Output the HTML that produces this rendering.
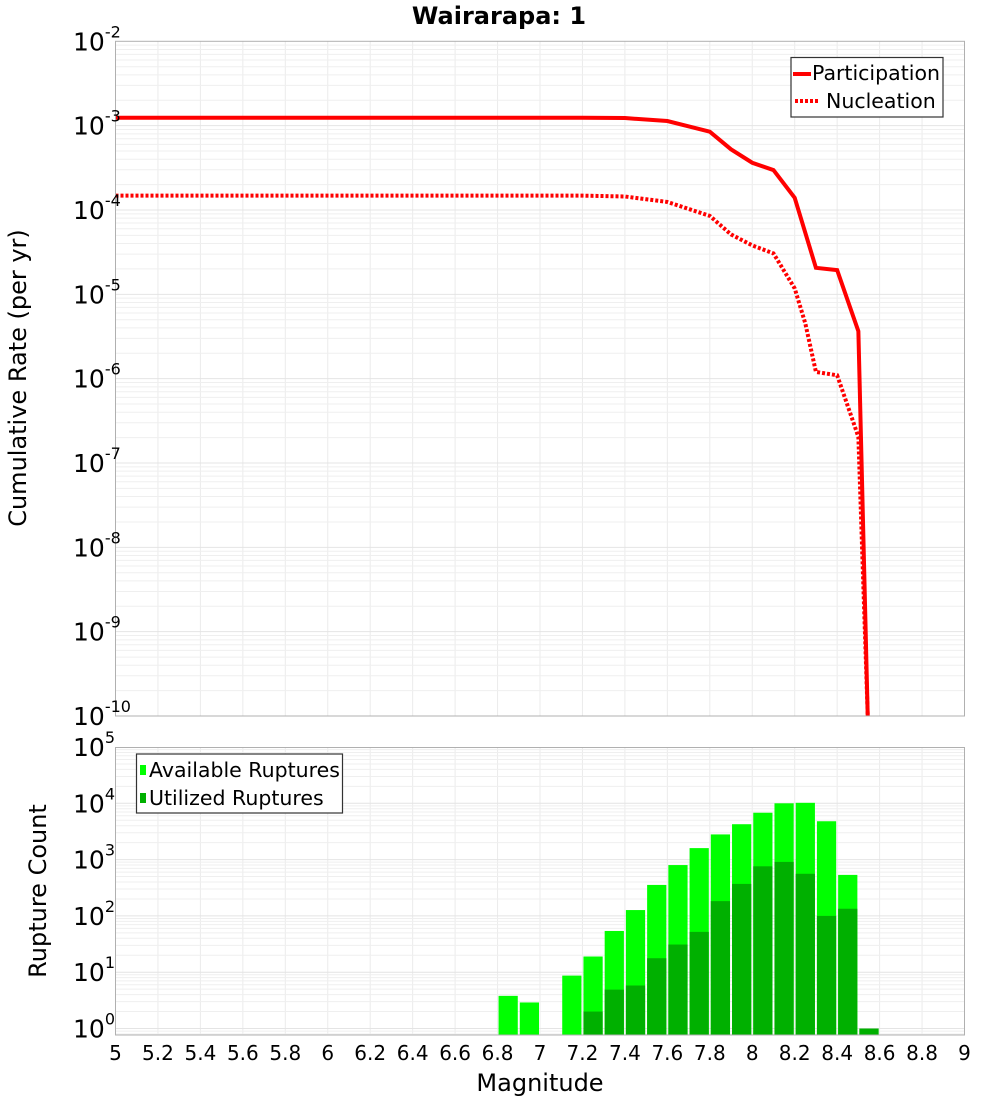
<!DOCTYPE html>
<html><head><meta charset="utf-8"><style>
html,body{margin:0;padding:0;background:#fff;overflow:hidden;width:1000px;height:1100px;}
svg{display:block;font-family:"DejaVu Sans","Liberation Sans",sans-serif;}
</style></head><body>
<svg id="chart" width="1000" height="1100" viewBox="0 0 1000 1100" xmlns="http://www.w3.org/2000/svg">
<text x="499" y="24" font-size="24" font-weight="bold" text-anchor="middle">Wairarapa: 1</text>
<g id="top-grid"></g>
<g id="bot-grid"></g>
<g id="bars"></g>
<defs><clipPath id="topclip"><rect x="115.5" y="41.3" width="849" height="675"/></clipPath></defs>
<g id="lines" clip-path="url(#topclip)"></g>
<rect x="115.5" y="41.3" width="849" height="674.7" fill="none" stroke="#b0b0b0" stroke-width="1"/>
<rect x="115.5" y="747.5" width="849" height="287.5" fill="none" stroke="#b0b0b0" stroke-width="1"/>
<g id="ylabels"></g>
<g id="xlabels"></g>
<text transform="translate(26,378) rotate(-90)" font-size="24" text-anchor="middle">Cumulative Rate (per yr)</text>
<text transform="translate(46,891) rotate(-90)" font-size="24" text-anchor="middle">Rupture Count</text>
<text x="540" y="1091" font-size="24" text-anchor="middle">Magnitude</text>
<g>
<rect x="791" y="57.5" width="152" height="59.5" fill="#fff" stroke="#333" stroke-width="1.2"/>
<line x1="793" y1="74" x2="811" y2="74" stroke="#f00" stroke-width="4"/>
<text x="812" y="80" font-size="20.5">Participation</text>
<line x1="795" y1="101" x2="819" y2="101" stroke="#f00" stroke-width="4" stroke-dasharray="3,2"/>
<text x="826" y="108" font-size="20.5">Nucleation</text>
</g>
<g>
<rect x="136.5" y="754" width="206" height="59" fill="#fff" stroke="#333" stroke-width="1.2"/>
<rect x="140" y="765" width="6" height="10" fill="#00ff00"/>
<text x="149" y="777" font-size="20.5">Available Ruptures</text>
<rect x="140" y="793" width="6" height="10" fill="#00b000"/>
<text x="149" y="805" font-size="20.5">Utilized Ruptures</text>
</g>
</svg>
<script>
const partMags = [5.0,7.2,7.4,7.6,7.8,7.9,8.0,8.1,8.2,8.3,8.4,8.5,8.6];
const partLog = [-2.906,-2.906,-2.91,-2.945,-3.072,-3.281,-3.44,-3.527,-3.855,-4.686,-4.713,-5.437,-15.8];
const nuclMags = [5.0,7.2,7.4,7.6,7.8,7.9,8.0,8.1,8.2,8.25,8.3,8.4,8.5,8.6];
const nuclLog = [-3.83,-3.83,-3.84,-3.905,-4.07,-4.29,-4.42,-4.515,-4.93,-5.345,-5.92,-5.96,-6.69,-14.2];
const binStarts = [6.8,6.9,7.1,7.2,7.3,7.4,7.5,7.6,7.7,7.8,7.9,8.0,8.1,8.2,8.3,8.4,8.5];
const available = [3.8,2.9,8.7,19,54,127,355,800,1600,2800,4250,6800,10000,10200,4800,535,1];
const utilized = [0,0,0,2,4.9,5.8,17.7,31,52,183,370,760,910,560,100,134,1];
const xTicks = [5,5.2,5.4,5.6,5.8,6,6.2,6.4,6.6,6.8,7,7.2,7.4,7.6,7.8,8,8.2,8.4,8.6,8.8,9];
const topDecades = [-2,-3,-4,-5,-6,-7,-8,-9,-10];
const botDecades = [5,4,3,2,1,0];

const NS="http://www.w3.org/2000/svg";
const X0=115.5,X1=964.5;
const xs=m=>X0+(m-5)/4*(X1-X0);
const yTop=l=>41.3+(-2-l)*84.34;
const yBot=l=>747+(5-l)*56.3;
const BOTB=1035;
function mk(tag,attrs,parent){const e=document.createElementNS(NS,tag);for(const k in attrs)e.setAttribute(k,attrs[k]);parent.appendChild(e);return e;}
const tg=document.getElementById('top-grid'),bg=document.getElementById('bot-grid');
xTicks.forEach(m=>{
  const l1=mk('line',{x1:xs(m),x2:xs(m),y1:41.3,y2:716,stroke:'#ebebeb','stroke-width':1},tg);
  
  
  const l2=mk('line',{x1:xs(m),x2:xs(m),y1:747.5,y2:1035,stroke:'#ebebeb','stroke-width':1},bg);
  
  
});
for(let d=-10;d<-2;d++){for(let k=1;k<10;k++){const y=yTop(d+Math.log10(k));
  const l=mk('line',{x1:X0,x2:X1,y1:y,y2:y,stroke:k==1?'#e4e4e4':'#efefef','stroke-width':1},tg);
  
  }}
for(let d=-1;d<5;d++){for(let k=1;k<10;k++){const y=yBot(d+Math.log10(k));if(y>1035||y<747)continue;
  const l=mk('line',{x1:X0,x2:X1,y1:y,y2:y,stroke:k==1?'#e4e4e4':'#efefef','stroke-width':1},bg);
  
  }}
const bars=document.getElementById('bars');
const bw=(X1-X0)/40;
binStarts.forEach((m,i)=>{
  const x=xs(m)+1;
  if(available[i]>0){const y=Math.max(yBot(Math.log10(available[i])),747.5);
    const r=mk('rect',{x:x,y:y,width:bw-2,height:BOTB-y,fill:'#00ff00'},bars);
    
    }
  if(utilized[i]>0){const y=yBot(Math.log10(utilized[i]));
    const r=mk('rect',{x:x,y:y,width:bw-2,height:BOTB-y,fill:'#00b000'},bars);
    
    }
});
const lg=document.getElementById('lines');
const p1=mk('polyline',{points:partMags.map((m,i)=>xs(m)+','+yTop(partLog[i])).join(' '),fill:'none',stroke:'#f00','stroke-width':4,'stroke-linejoin':'miter'},lg);


const p2=mk('polyline',{points:nuclMags.map((m,i)=>xs(m)+','+yTop(nuclLog[i])).join(' '),fill:'none',stroke:'#f00','stroke-width':4,'stroke-dasharray':'3,2'},lg);


const yl=document.getElementById('ylabels');
function ylab(y,exp){const t=mk('text',{x:73,y:y+9,'font-size':25},yl);
  
  
  t.appendChild(document.createTextNode('10'));
  const s=mk('tspan',{dy:-13,'font-size':16},t);s.textContent=String(exp);}
topDecades.forEach(d=>ylab(yTop(d),d));
botDecades.forEach(d=>ylab(yBot(d),d));
const xl=document.getElementById('xlabels');
xTicks.forEach(m=>{const t=mk('text',{x:xs(m),y:1060,'font-size':20,'text-anchor':'middle'},xl);
  
  
  t.textContent=String(m);});
</script>
</body></html>
